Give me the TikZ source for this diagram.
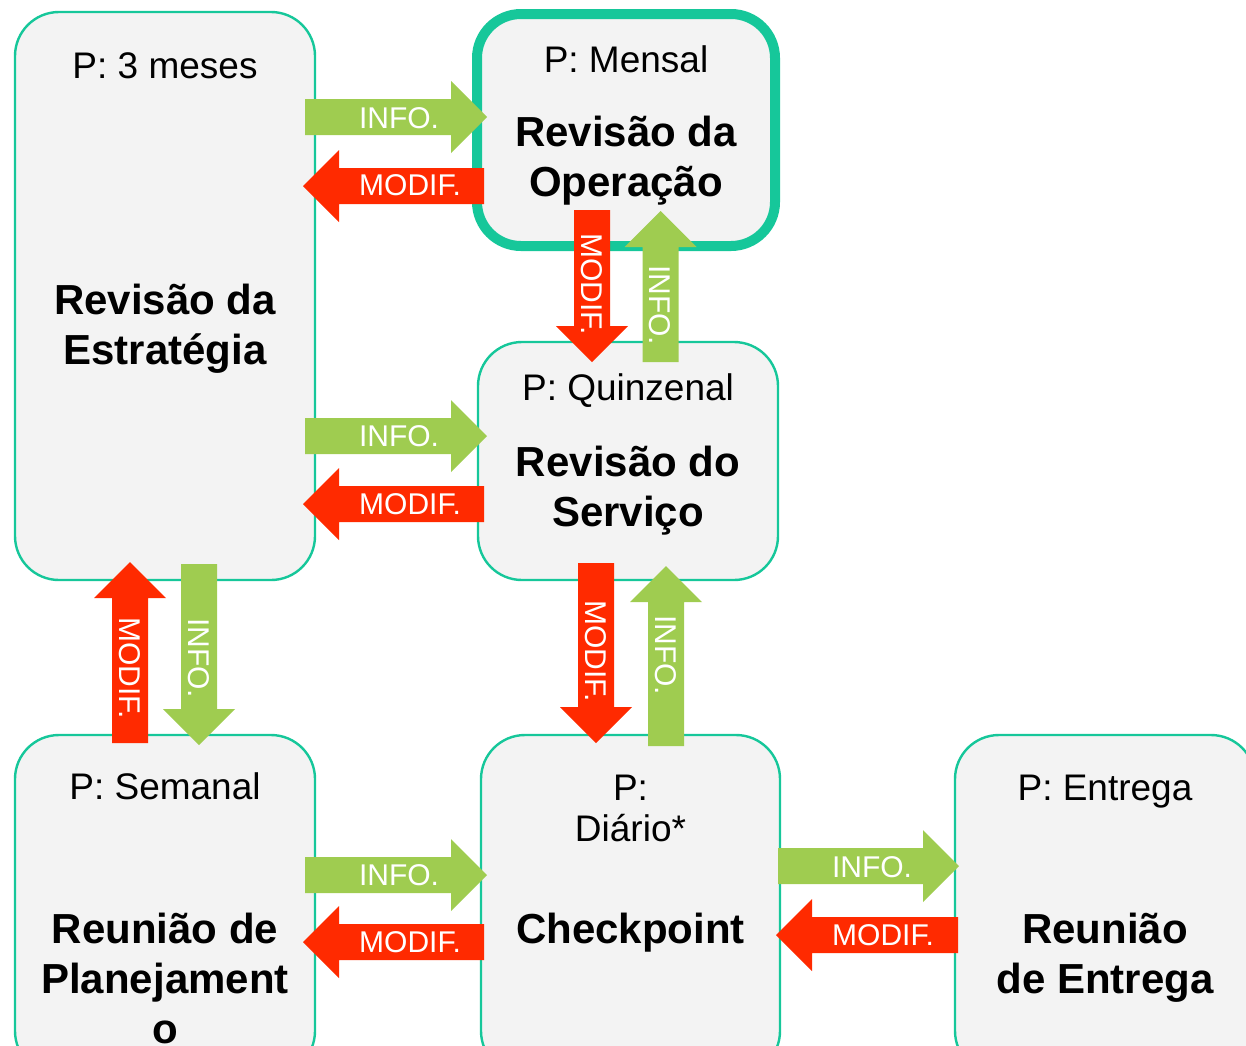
\documentclass[tikz,border=0pt]{standalone}
\usepackage{fontspec}
\setmainfont{Liberation Sans}
\usetikzlibrary{positioning}

\definecolor{boxline}{HTML}{16C79A}
\definecolor{boxfill}{HTML}{F3F3F3}
\definecolor{infogreen}{HTML}{9FCC50}
\definecolor{modifred}{HTML}{FF2A00}

\tikzset{
  box/.style={draw=boxline, fill=boxfill, line width=1.2pt, rounded corners=22pt,
    minimum width=150pt, inner sep=0pt},
  period/.style={font=\fontsize{18.5}{20.5}\selectfont, align=center},
  title/.style={font=\fontsize{21}{25}\selectfont\bfseries, align=center},
  lbl/.style={text=white, font=\fontsize{15}{18}\selectfont, inner sep=0pt},
  pics/blockarrow/.style args={#1/#2}{code={
    \fill[#2] (0,-9) -- (#1-18,-9) -- (#1-18,-18) -- (#1,0) -- (#1-18,18)
      -- (#1-18,9) -- (0,9) -- cycle;
  }}
}

\begin{document}
\begin{tikzpicture}[x=1pt, y=-1pt, on grid]
  \useasboundingbox (0,0) rectangle (623,522.5);

  % caixas
  \node[box, minimum height=284pt] (estrategia) at (82.5,148) {};
  \node[box, minimum width=149pt, minimum height=116pt, line width=5pt,
    above right=83pt and 230.5pt of estrategia] (operacao) {};
  \node[box, minimum height=119pt, below=165.5pt of operacao, xshift=1pt] (servico) {};
  \node[box, minimum height=170pt, below=304.5pt of estrategia] (planejamento) {};
  \node[box, minimum width=149.5pt, minimum height=170pt,
    right=232.75pt of planejamento] (checkpoint) {};
  \node[box, minimum height=170pt, right=237.25pt of checkpoint] (entrega) {};

  \node[period] (estrategia_p) at ([yshift=-27.5pt]estrategia.north) {P: 3 meses};
  \node[title, below=16.5pt of estrategia] (estrategia_t) {Revisão da\\Estratégia};
  \node[period] (operacao_p) at ([yshift=-25pt]operacao.north) {P: Mensal};
  \node[title, below=15.25pt of operacao] (operacao_t) {Revisão da\\Operação};
  \node[period] (servico_p) at ([yshift=-25pt]servico.north) {P: Quinzenal};
  \node[title, below=15pt of servico] (servico_t) {Revisão do\\Serviço};
  \node[period] (planejamento_p) at ([yshift=-26pt]planejamento.north) {P: Semanal};
  \node[title, below=36.5pt of planejamento] (planejamento_t) {Reunião de\\Planejament\\o};
  \node[period] (checkpoint_p) at ([yshift=-37.25pt]checkpoint.north) {P:\\Diário*};
  \node[title, below=14pt of checkpoint] (checkpoint_t) {Checkpoint};
  \node[period] (entrega_p) at ([yshift=-29pt]entrega.north) {P: Entrega};
  \node[title, below=26.25pt of entrega] (entrega_t) {Reunião\\de Entrega};

  % setas horizontais
  \pic at (152.5,58.5) {blockarrow=91/infogreen};
  \pic[rotate=180] at (242,93) {blockarrow=90.5/modifred};
  \pic at (152.5,218) {blockarrow=91/infogreen};
  \pic[rotate=180] at (242,252) {blockarrow=90.5/modifred};
  \pic at (152.5,437.5) {blockarrow=91/infogreen};
  \pic[rotate=180] at (242,471) {blockarrow=90.5/modifred};
  \pic at (389,433) {blockarrow=90.5/infogreen};
  \pic[rotate=180] at (479,467.5) {blockarrow=91/modifred};

  % setas verticais
  \pic[rotate=-90] at (296,105) {blockarrow=76/modifred};
  \pic[rotate=90] at (330.25,181) {blockarrow=75.5/infogreen};
  \pic[rotate=90] at (65,371.5) {blockarrow=90.5/modifred};
  \pic[rotate=-90] at (99.5,282) {blockarrow=90.5/infogreen};
  \pic[rotate=-90] at (298,281.5) {blockarrow=90/modifred};
  \pic[rotate=90] at (333,373) {blockarrow=90/infogreen};

  \node[lbl] (info_ope) at (199.5,59) {INFO.};
  \node[lbl] (modif_ope) at (205,92.5) {MODIF.};
  \node[lbl] (info_ser) at (199.5,218) {INFO.};
  \node[lbl] (modif_ser) at (205,252) {MODIF.};
  \node[lbl] (info_che) at (199.5,437.5) {INFO.};
  \node[lbl] (modif_che) at (205,471) {MODIF.};
  \node[lbl] (info_ent) at (436,433.5) {INFO.};
  \node[lbl] (modif_ent) at (441.5,467.5) {MODIF.};
  \node[lbl, rotate=-90] (modif_down1) at (296,142) {MODIF.};
  \node[lbl, rotate=-90] (info_up1) at (330,152.5) {INFO.};
  \node[lbl, rotate=-90] (modif_up2) at (65,334) {MODIF.};
  \node[lbl, rotate=-90] (info_down2) at (99.5,329) {INFO.};
  \node[lbl, rotate=-90] (modif_down3) at (298,325.5) {MODIF.};
  \node[lbl, rotate=-90] (info_up3) at (333,327.5) {INFO.};

\end{tikzpicture}
\end{document}
